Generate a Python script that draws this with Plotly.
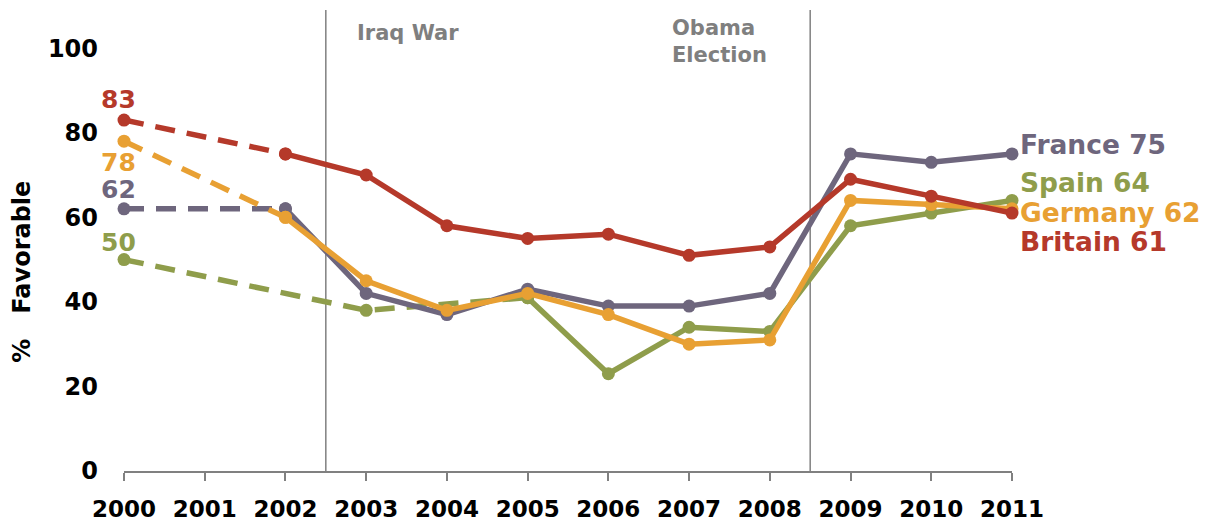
import plotly.graph_objects as go

years = [2000, 2001, 2002, 2003, 2004, 2005, 2006, 2007, 2008, 2009, 2010, 2011]
tick_labels = [str(y) for y in years]

spain = [50, None, None, 38, None, 41, 23, 34, 33, 58, 61, 64]
france = [62, None, 62, 42, 37, 43, 39, 39, 42, 75, 73, 75]
germany = [78, None, 60, 45, 38, 42, 37, 30, 31, 64, 63, 62]
britain = [83, None, 75, 70, 58, 55, 56, 51, 53, 69, 65, 61]

# index of the last point of the dashed (early, sparse) part of each series
dash_end = {"Spain": 5, "France": 2, "Germany": 2, "Britain": 2}

names = ["Spain", "France", "Germany", "Britain"]
series = {"Spain": spain, "France": france, "Germany": germany, "Britain": britain}
colors = {"Spain": "#8F9D4B", "France": "#6E667D", "Germany": "#E8A033", "Britain": "#B5392A"}

# label offsets (pixels)
left_shift = {"Britain": 21, "Germany": -21, "France": 19, "Spain": 17}
right_shift = {"France": 9, "Spain": 18, "Germany": -4, "Britain": -28}

FONT = "DejaVu Sans"

fig = go.Figure()

for n in names:
    vals = series[n]
    k = dash_end[n]
    dx = [x for x, v in zip(years[:k + 1], vals[:k + 1]) if v is not None]
    dy = [v for v in vals[:k + 1] if v is not None]
    sx = years[k:]
    sy = vals[k:]
    fig.add_trace(go.Scatter(x=dx, y=dy, mode="lines+markers", cliponaxis=False,
                             line=dict(color=colors[n], width=5.5, dash="20px,12px"),
                             marker=dict(size=13, color=colors[n]),
                             showlegend=False, hoverinfo="skip"))
    fig.add_trace(go.Scatter(x=sx, y=sy, mode="lines+markers", cliponaxis=False,
                             line=dict(color=colors[n], width=5.5),
                             marker=dict(size=13, color=colors[n]),
                             showlegend=False, name=n))

annotations = []
for n in names:
    vals = series[n]
    annotations.append(dict(x=years[0], y=vals[0], text=f"<b>{vals[0]}</b>", showarrow=False,
                            xanchor="center", yanchor="middle", xshift=-6, yshift=left_shift[n],
                            font=dict(family=FONT, size=25, color=colors[n])))
    annotations.append(dict(x=years[-1], y=vals[-1], text=f"<b>{n} {vals[-1]}</b>", showarrow=False,
                            xanchor="left", yanchor="middle", xshift=6, yshift=right_shift[n],
                            font=dict(family=FONT, size=26.5, color=colors[n])))

annotations.append(dict(x=2002.5, y=103.5, text="<b>Iraq War</b>", showarrow=False,
                        xanchor="left", yanchor="middle", xshift=29,
                        font=dict(family=FONT, size=21, color="#7F7F7F")))
annotations.append(dict(x=2008.5, y=101.5, text="<b>Obama<br>Election</b>", showarrow=False,
                        xanchor="left", yanchor="middle", xshift=-140, align="left",
                        font=dict(family=FONT, size=21, color="#7F7F7F")))
annotations.append(dict(x=-0.115, y=0.43, xref="paper", yref="paper",
                        text="<b>%   Favorable</b>", textangle=-90, showarrow=False,
                        xanchor="center", yanchor="middle",
                        font=dict(family=FONT, size=24, color="black")))

shapes = []
for xv in [2002.5, 2008.5]:
    shapes.append(dict(type="line", x0=xv, x1=xv, y0=0, y1=109, xref="x", yref="y",
                       line=dict(color="#808080", width=1.5), layer="below"))

fig.update_layout(
    width=1204, height=515,
    margin=dict(l=116, r=200, t=0, b=52),
    paper_bgcolor="white", plot_bgcolor="white",
    annotations=annotations, shapes=shapes,
    xaxis=dict(range=[2000, 2011], tickmode="array", tickvals=years, ticktext=tick_labels,
               automargin=False,
               showgrid=False, zeroline=False, showline=True, linecolor="#808080", linewidth=1.5,
               ticks="outside", ticklen=8, tickcolor="#808080", tickwidth=1.5,
               ticklabelstandoff=9,
               tickfont=dict(family=FONT, size=23, color="black", weight="bold")),
    yaxis=dict(range=[0, 109.5], tickmode="array", tickvals=[0, 20, 40, 60, 80, 100],
               ticktext=["0", "20", "40", "60", "80", "100"],
               automargin=False,
               showgrid=False, zeroline=False, showline=False, ticks="",
               ticklabelstandoff=25,
               tickfont=dict(family=FONT, size=24, color="black", weight="bold")),
)

fig.write_html("out.html")
